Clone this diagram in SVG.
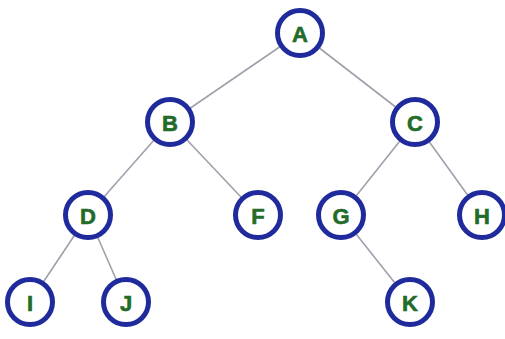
<svg xmlns="http://www.w3.org/2000/svg" width="505" height="339" viewBox="0 0 505 339">
<style>
.n circle{fill:#ffffff;stroke:#1f2a9c;stroke-width:5}
.n text{font-family:"Liberation Sans",Arial,sans-serif;font-weight:bold;font-size:22px;fill:#236b28;stroke:#236b28;stroke-width:0.6;text-anchor:middle;dominant-baseline:central}
.e line{stroke:#a0a0ac;stroke-width:1.6}
</style>
<rect width="505" height="339" fill="#ffffff"/>
<g id="edges" class="e">
<line x1="300" y1="33" x2="170" y2="122"/>
<line x1="300" y1="33" x2="415" y2="122"/>
<line x1="170" y1="122" x2="88" y2="215"/>
<line x1="170" y1="122" x2="258" y2="215"/>
<line x1="415" y1="122" x2="341" y2="215"/>
<line x1="415" y1="122" x2="482" y2="215"/>
<line x1="88" y1="215" x2="30" y2="302"/>
<line x1="88" y1="215" x2="126" y2="302"/>
<line x1="341" y1="215" x2="410" y2="302"/>
</g>
<g id="A" class="n"><circle cx="300" cy="33" r="22.5"/><text x="300" y="34">A</text></g>
<g id="B" class="n"><circle cx="170" cy="122" r="22.5"/><text x="170" y="123">B</text></g>
<g id="C" class="n"><circle cx="415" cy="122" r="22.5"/><text x="415" y="123">C</text></g>
<g id="D" class="n"><circle cx="88" cy="215" r="22.5"/><text x="88" y="216">D</text></g>
<g id="F" class="n"><circle cx="258" cy="215" r="22.5"/><text x="258" y="216">F</text></g>
<g id="G" class="n"><circle cx="341" cy="215" r="22.5"/><text x="341" y="216">G</text></g>
<g id="H" class="n"><circle cx="482" cy="215" r="22.5"/><text x="482" y="216">H</text></g>
<g id="I" class="n"><circle cx="30" cy="302" r="22.5"/><text x="30" y="303">I</text></g>
<g id="J" class="n"><circle cx="126" cy="302" r="22.5"/><text x="126" y="303">J</text></g>
<g id="K" class="n"><circle cx="410" cy="302" r="22.5"/><text x="410" y="303">K</text></g>
</svg>
